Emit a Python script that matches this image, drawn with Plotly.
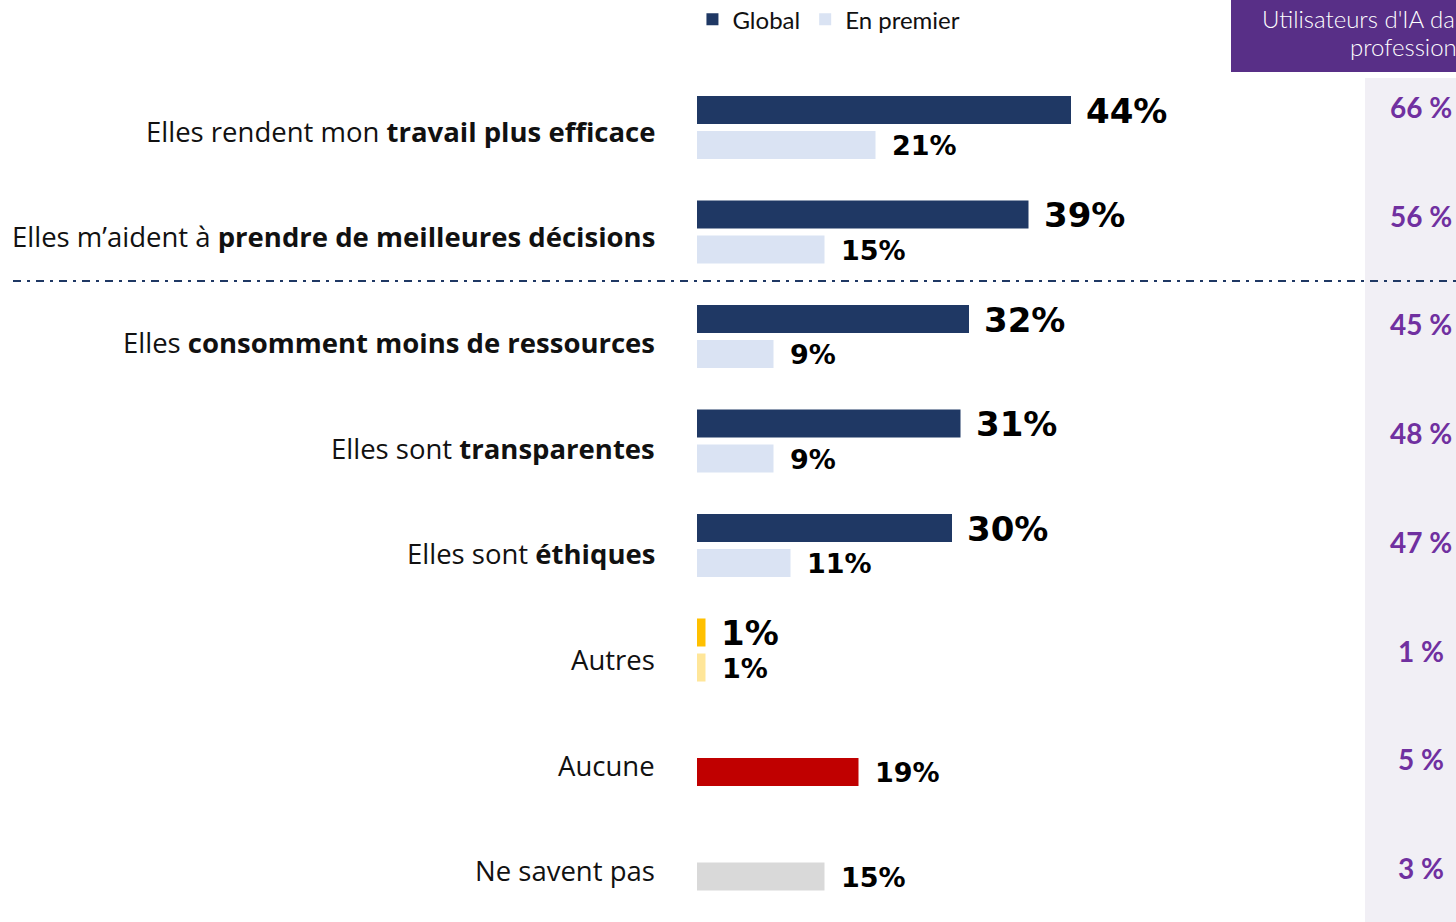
import plotly.graph_objects as go

# Data
labels = [
    "Elles rendent mon <b>travail plus efficace</b>",
    "Elles m\u2019aident à <b>prendre de meilleures décisions</b>",
    "Elles <b>consomment moins de ressources</b>",
    "Elles sont <b>transparentes</b>",
    "Elles sont <b>éthiques</b>",
    "Autres",
    "Aucune",
    "Ne savent pas",
]
global_vals = [44, 39, 32, 31, 30, 1, None, None]
premier_vals = [21, 15, 9, 9, 11, 1, 19, 15]
users_vals = [66, 56, 45, 48, 47, 1, 5, 3]

global_colors = ["#1F3864"] * 5 + ["#FFC000", "#1F3864", "#1F3864"]
premier_colors = ["#DAE3F3"] * 5 + ["#FFE699", "#C00000", "#D9D9D9"]

FONT = "Open Sans"
NUM_FONT = "DejaVu Sans"
rows = list(range(len(labels)))

fig = go.Figure()

fig.add_trace(go.Bar(
    y=rows, x=global_vals, orientation="h", name="Global",
    marker=dict(color=global_colors, line=dict(width=0)),
))
fig.add_trace(go.Bar(
    y=rows, x=premier_vals, orientation="h", name="En premier",
    marker=dict(color=premier_colors, line=dict(width=0)),
))

annotations = []
# category labels
for i, lab in enumerate(labels):
    annotations.append(dict(
        x=0, xref="paper", y=1 - (131 + i * 105.7) / 922, yref="paper",
        text=lab, showarrow=False, xanchor="right", yanchor="middle", xshift=-40,
        font=dict(family=FONT, size=27.5, color="#111111"),
    ))
# value labels
for i, v in enumerate(global_vals):
    if v is not None:
        annotations.append(dict(
            x=v, y=i, text=f"<b>{v}%</b>", showarrow=False,
            xanchor="left", xshift=13, yshift=17,
            font=dict(family=NUM_FONT, size=34, color="#000000"),
        ))
for i, v in enumerate(premier_vals):
    annotations.append(dict(
        x=v, y=i, text=f"<b>{v}%</b>", showarrow=False,
        xanchor="left", xshift=14, yshift=-18,
        font=dict(family=NUM_FONT, size=27, color="#000000"),
    ))
# right column: AI users at work
for i, v in enumerate(users_vals):
    annotations.append(dict(
        x=0.954, xref="paper", y=1 - (107 + i * 108.7) / 922, yref="paper",
        text=f"<b>{v} %</b>", showarrow=False, xanchor="center", yanchor="middle",
        font=dict(family="Lato", size=28, color="#7030A0"),
    ))
annotations.append(dict(
    x=(1260 - 697) / 759, xref="paper", y=1 - 19 / 922, yref="paper",
    text="Utilisateurs d'IA dans leur", showarrow=False,
    xanchor="left", yanchor="middle",
    font=dict(family="Lato", size=24, color="#FFFFFF", weight=300),
))
annotations.append(dict(
    x=(1348 - 697) / 759, xref="paper", y=1 - 47 / 922, yref="paper",
    text="profession", showarrow=False,
    xanchor="left", yanchor="middle",
    font=dict(family="Lato", size=24, color="#FFFFFF", weight=300),
))

shapes = [
    dict(type="rect", xref="paper", yref="paper", x0=(1231 - 697) / 759, x1=1.1, y0=1 - 72 / 922, y1=1.01,
         fillcolor="#582F87", line=dict(width=0), layer="below"),
    dict(type="rect", xref="paper", yref="paper", x0=(1365 - 697) / 759, x1=1.1, y0=-0.01, y1=1 - 78 / 922,
         fillcolor="#F1EFF5", line=dict(width=0), layer="below"),
    dict(type="line", xref="paper", yref="y", x0=-(697 - 13) / 759, x1=1.0, y0=1.47, y1=1.47,
         line=dict(color="#1F3864", width=2, dash="8px,6px,3px,6px")),
]

fig.update_layout(
    width=1456, height=922,
    margin=dict(l=697, r=0, t=0, b=0, autoexpand=False),
    paper_bgcolor="white", plot_bgcolor="rgba(0,0,0,0)",
    barmode="group", bargap=0.33, bargroupgap=0.2,
    xaxis=dict(range=[0, 759 / 8.5], visible=False, fixedrange=True),
    yaxis=dict(range=[7 + 63 / 104.5, -127.5 / 104.5], visible=False, fixedrange=True),
    legend=dict(orientation="h", x=-0.006, xanchor="left", y=1.003, yanchor="top",
                font=dict(family="Lato", size=24, color="#111111"),
                bgcolor="rgba(0,0,0,0)", itemwidth=30, traceorder="normal"),
    annotations=annotations,
    shapes=shapes,
    font=dict(family=FONT),
)

fig.write_html("out.html", config={"displayModeBar": False},
               post_script="document.body.style.margin='0';document.body.style.overflow='hidden';")
